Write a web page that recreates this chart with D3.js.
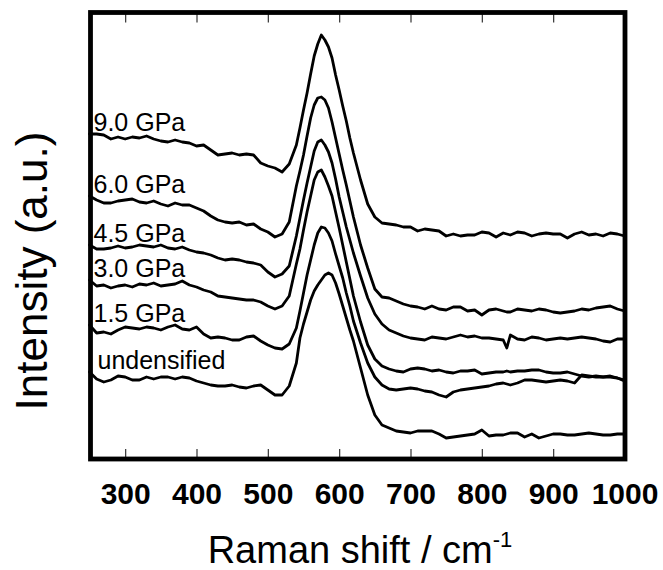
<!DOCTYPE html>
<html><head><meta charset="utf-8">
<script src="https://cdn.jsdelivr.net/npm/d3@7"></script>
<style>body{margin:0;background:#fff}svg{display:block}</style>
</head><body><svg id="c" width="663" height="570"></svg>
<script>
// Raman shift sampling (cm^-1)
const shifts = [250,260,270,280,290,300,310,320,330,340,
 350,360,370,380,390,400,410,420,430,440,
 450,460,470,480,490,500,510,520,530,
 540,545,550,555,560,565,570,575,580,585,
 590,595,600,605,610,615,620,
 630,640,650,660,670,680,690,700,710,720,
 730,740,750,760,770,780,790,800,810,820,830,
 835,840,850,860,870,880,890,900,
 910,920,930,940,950,960,970,980,990,1000];

const seriesNames = ["9.0 GPa","6.0 GPa","4.5 GPa","3.0 GPa","1.5 GPa","undensified"];

const i90 = [3.25,3.25,3.24,3.20,3.22,3.20,3.22,3.21,3.23,3.20,
 3.18,3.17,3.19,3.17,3.16,3.13,3.14,3.09,3.04,3.05,
 3.06,3.04,3.05,3.04,2.96,2.93,2.91,2.87,2.95,
 3.14,3.31,3.49,3.66,3.85,4.03,4.15,4.24,4.19,4.12,
 4.01,3.84,3.69,3.53,3.38,3.21,3.06,
 2.79,2.55,2.42,2.36,2.35,2.34,2.32,2.32,2.28,2.30,
 2.29,2.28,2.23,2.25,2.23,2.24,2.24,2.27,2.26,2.22,2.26,
 2.25,2.24,2.27,2.26,2.23,2.25,2.26,2.25,
 2.25,2.21,2.25,2.27,2.24,2.25,2.23,2.26,2.25,2.23];

const i60 = [2.63,2.59,2.56,2.56,2.58,2.59,2.60,2.57,2.56,2.58,
 2.55,2.53,2.56,2.54,2.54,2.51,2.48,2.43,2.39,2.37,
 2.36,2.37,2.34,2.35,2.30,2.27,2.22,2.25,2.37,
 2.73,2.88,3.04,3.23,3.41,3.54,3.61,3.62,3.59,3.51,
 3.37,3.21,3.05,2.89,2.74,2.58,2.42,
 2.14,1.91,1.70,1.62,1.61,1.58,1.55,1.53,1.52,1.50,
 1.53,1.50,1.49,1.52,1.52,1.48,1.49,1.44,1.49,1.50,1.48,
 1.47,1.47,1.50,1.49,1.48,1.50,1.49,1.47,
 1.46,1.47,1.48,1.50,1.49,1.51,1.52,1.53,1.50,1.48];

const i45 = [2.14,2.10,2.10,2.11,2.13,2.11,2.12,2.14,2.13,2.12,
 2.14,2.11,2.10,2.12,2.09,2.07,2.06,2.04,2.01,1.99,
 2.00,1.99,1.97,1.96,1.94,1.87,1.82,1.85,1.93,
 2.23,2.41,2.59,2.76,2.92,3.08,3.17,3.19,3.14,3.07,
 2.96,2.80,2.62,2.47,2.32,2.19,2.06,
 1.83,1.61,1.45,1.35,1.29,1.26,1.23,1.21,1.20,1.19,
 1.22,1.21,1.20,1.22,1.24,1.22,1.23,1.21,1.21,1.20,1.19,
 1.11,1.24,1.20,1.19,1.22,1.21,1.19,1.20,
 1.21,1.20,1.21,1.22,1.21,1.20,1.18,1.17,1.20,1.20];

const i30 = [1.79,1.73,1.74,1.71,1.73,1.74,1.72,1.75,1.74,1.76,
 1.73,1.74,1.75,1.78,1.74,1.72,1.69,1.67,1.63,1.62,
 1.61,1.60,1.59,1.59,1.57,1.53,1.50,1.53,1.63,
 1.95,2.10,2.29,2.47,2.63,2.79,2.87,2.89,2.82,2.73,
 2.63,2.47,2.31,2.14,1.97,1.80,1.63,
 1.37,1.14,1.00,0.93,0.90,0.88,0.87,0.90,0.91,0.90,
 0.88,0.89,0.87,0.86,0.88,0.88,0.89,0.85,0.86,0.87,0.87,
 0.88,0.87,0.88,0.88,0.89,0.89,0.87,0.86,
 0.86,0.87,0.85,0.83,0.82,0.83,0.82,0.82,0.81,0.79];

const i15 = [1.34,1.26,1.27,1.25,1.29,1.32,1.31,1.30,1.32,1.31,
 1.29,1.32,1.34,1.30,1.29,1.32,1.25,1.21,1.22,1.21,
 1.19,1.19,1.22,1.23,1.18,1.14,1.11,1.10,1.15,
 1.31,1.48,1.66,1.84,1.99,2.14,2.26,2.32,2.31,2.26,
 2.18,2.05,1.93,1.81,1.66,1.53,1.38,
 1.16,0.96,0.82,0.74,0.70,0.69,0.70,0.71,0.70,0.68,
 0.67,0.64,0.62,0.67,0.69,0.70,0.71,0.72,0.73,0.75,0.76,
 0.75,0.74,0.76,0.79,0.79,0.78,0.77,0.78,
 0.79,0.78,0.76,0.84,0.83,0.82,0.82,0.83,0.81,0.78];

const i00 = [0.87,0.80,0.77,0.79,0.83,0.82,0.79,0.79,0.82,0.80,
 0.82,0.82,0.80,0.82,0.81,0.78,0.76,0.74,0.73,0.73,
 0.74,0.72,0.71,0.73,0.74,0.69,0.64,0.64,0.73,
 0.96,1.21,1.35,1.47,1.59,1.68,1.74,1.79,1.84,1.86,
 1.84,1.76,1.65,1.53,1.41,1.29,1.18,
 0.91,0.64,0.44,0.34,0.31,0.28,0.27,0.26,0.28,0.28,
 0.28,0.25,0.21,0.22,0.23,0.24,0.25,0.29,0.23,0.24,0.24,
 0.25,0.26,0.26,0.22,0.25,0.21,0.23,0.25,
 0.25,0.24,0.24,0.25,0.26,0.25,0.24,0.24,0.25,0.25];

const seriesValues = [i90, i60, i45, i30, i15, i00];
const xTicks = [300,400,500,600,700,800,900,1000];
const xTitle = "Raman shift / cm";
const xTitleSup = "-1";
const yTitle = "Intensity (a.u.)";

const FONT = "'Liberation Sans', Arial, Helvetica, sans-serif";
const svg = d3.select("#c");
svg.append("rect").attr("width",663).attr("height",570).attr("fill","#fff");

const x = d3.scaleLinear().domain([250,1000]).range([89.5,624.5]);
const y = d3.scaleLinear().domain([0,4.47]).range([459,12]);

// spectra
const line = d3.line().x((d,i)=>x(shifts[i])).y(d=>y(d));
svg.append("g").selectAll("path").data(seriesValues).join("path")
  .attr("d", line)
  .attr("fill","none").attr("stroke","#000")
  .attr("stroke-width",2.8).attr("stroke-linejoin","round").attr("stroke-linecap","round");

// series labels, placed just above each curve's start
svg.append("g").selectAll("text").data(seriesNames).join("text")
  .attr("x",(d,i)=> i===5 ? 97.5 : 93.5)
  .attr("y",(d,i)=> y(seriesValues[i][0]) - 3)
  .attr("font-family",FONT).attr("font-size",25).attr("fill","#000")
  .text(d=>d);

// axes with inward ticks
const axBottom = svg.append("g").attr("transform","translate(0,459)")
  .call(d3.axisBottom(x).tickValues(xTicks).tickSize(-10).tickPadding(24).tickFormat(d3.format("d")));
const axTop = svg.append("g").attr("transform","translate(0,12.5)")
  .call(d3.axisTop(x).tickValues(xTicks).tickSize(-10).tickFormat(""));
[axBottom, axTop].forEach(g=>{
  g.select(".domain").remove();
  g.selectAll(".tick line").attr("stroke","#333").attr("stroke-width",1.2);
});
axBottom.selectAll(".tick text")
  .attr("font-family",FONT).attr("font-size",30).attr("font-weight","bold").attr("fill","#000");

// frame
svg.append("rect").attr("x",90.5).attr("y",12.5).attr("width",534.5).attr("height",446.5)
  .attr("fill","none").attr("stroke","#000").attr("stroke-width",4.8);

// axis titles
const xt = svg.append("text").attr("x",360).attr("y",563)
  .attr("text-anchor","middle").attr("font-family",FONT).attr("font-size",38).attr("fill","#000");
xt.append("tspan").text(xTitle);
xt.append("tspan").attr("font-size",22).attr("dy",-16).text(xTitleSup);

svg.append("text").attr("transform","translate(47,271) rotate(-90)")
  .attr("text-anchor","middle").attr("font-family",FONT).attr("font-size",44).attr("fill","#000")
  .text(yTitle);
</script></body></html>
